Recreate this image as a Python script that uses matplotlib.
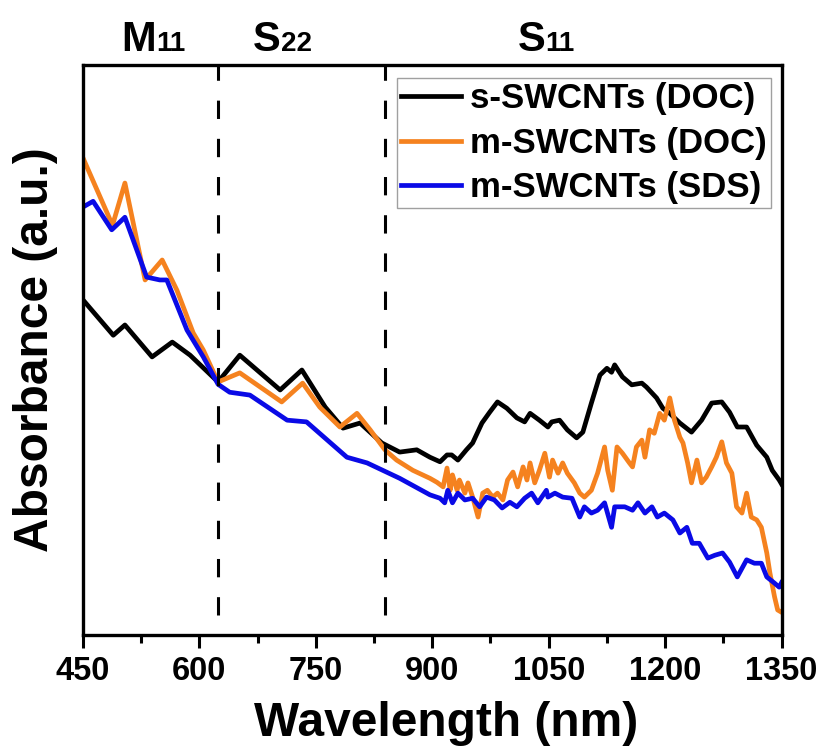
import matplotlib
matplotlib.use("Agg")
from matplotlib import pyplot as plt
from matplotlib.ticker import MultipleLocator

plt.rcParams['font.family'] = ['Liberation Sans', 'DejaVu Sans']
plt.rcParams['font.weight'] = 'bold'

# s-SWCNTs (DOC)
wl_s_doc = [450, 489, 504, 539, 565, 588, 624, 652, 704, 732, 762, 785, 807, 835,
            858, 880, 897, 910, 919, 925, 933, 944, 952, 964, 974, 984, 996, 1009,
            1019, 1026, 1038, 1049, 1054, 1064, 1074, 1086, 1094, 1105, 1116, 1125,
            1131, 1135, 1145, 1157, 1170, 1176, 1189, 1197, 1206, 1219, 1234, 1247,
            1260, 1273, 1283, 1293, 1305, 1318, 1331, 1338, 1347, 1350]
ab_s_doc = [0.588, 0.526, 0.544, 0.488, 0.514, 0.491, 0.444, 0.491, 0.430, 0.465,
            0.400, 0.363, 0.372, 0.337, 0.321, 0.325, 0.312, 0.304, 0.316, 0.316,
            0.307, 0.325, 0.337, 0.372, 0.391, 0.409, 0.398, 0.381, 0.374, 0.389,
            0.377, 0.365, 0.374, 0.377, 0.360, 0.346, 0.356, 0.407, 0.456, 0.468,
            0.461, 0.474, 0.453, 0.439, 0.442, 0.435, 0.416, 0.398, 0.389, 0.372,
            0.356, 0.377, 0.407, 0.409, 0.391, 0.365, 0.365, 0.333, 0.312, 0.289,
            0.272, 0.265]

# m-SWCNTs (DOC)
wl_m_doc = [450, 488, 504, 530, 552, 571, 592, 605, 624, 652, 706, 733, 755, 781,
            803, 820, 839, 854, 875, 897, 906, 914, 919, 923, 926, 932, 935, 942,
            946, 952, 959, 965, 971, 978, 984, 991, 997, 1004, 1010, 1017, 1022,
            1026, 1032, 1038, 1045, 1051, 1055, 1062, 1068, 1074, 1083, 1090, 1096,
            1105, 1113, 1122, 1126, 1132, 1138, 1145, 1154, 1158, 1163, 1170, 1174,
            1180, 1186, 1193, 1199, 1206, 1212, 1219, 1223, 1229, 1234, 1241, 1247,
            1253, 1260, 1266, 1273, 1279, 1286, 1292, 1299, 1305, 1311, 1318, 1324,
            1331, 1335, 1341, 1345, 1350]
ab_m_doc = [0.837, 0.719, 0.793, 0.623, 0.658, 0.605, 0.530, 0.500, 0.444, 0.460,
            0.409, 0.442, 0.400, 0.365, 0.389, 0.360, 0.325, 0.307, 0.289, 0.275,
            0.268, 0.260, 0.293, 0.254, 0.281, 0.254, 0.272, 0.249, 0.267, 0.242,
            0.207, 0.249, 0.254, 0.242, 0.249, 0.237, 0.272, 0.286, 0.260, 0.295,
            0.272, 0.302, 0.267, 0.289, 0.319, 0.277, 0.307, 0.284, 0.302, 0.284,
            0.267, 0.249, 0.242, 0.254, 0.284, 0.330, 0.289, 0.254, 0.330, 0.319,
            0.302, 0.295, 0.330, 0.342, 0.312, 0.360, 0.354, 0.389, 0.377, 0.416,
            0.377, 0.347, 0.337, 0.302, 0.267, 0.307, 0.267, 0.277, 0.295, 0.312,
            0.339, 0.302, 0.284, 0.225, 0.214, 0.249, 0.207, 0.202, 0.189, 0.144,
            0.109, 0.067, 0.044, 0.040]

# m-SWCNTs (SDS)
wl_m_sds = [450, 463, 487, 504, 532, 549, 558, 584, 605, 624, 639, 665, 713, 738,
            790, 816, 858, 897, 910, 916, 920, 926, 933, 942, 952, 961, 970, 980,
            990, 1000, 1009, 1019, 1028, 1036, 1047, 1049, 1058, 1068, 1080, 1090,
            1096, 1105, 1113, 1122, 1131, 1135, 1148, 1158, 1165, 1174, 1183, 1190,
            1199, 1210, 1219, 1228, 1235, 1244, 1255, 1264, 1274, 1283, 1293, 1305,
            1315, 1324, 1331, 1341, 1347, 1350]
ab_m_sds = [0.751, 0.761, 0.711, 0.733, 0.628, 0.623, 0.623, 0.535, 0.488, 0.440,
            0.426, 0.421, 0.377, 0.374, 0.312, 0.302, 0.275, 0.246, 0.240, 0.232,
            0.254, 0.232, 0.249, 0.237, 0.240, 0.225, 0.242, 0.237, 0.223, 0.233,
            0.225, 0.240, 0.249, 0.232, 0.254, 0.242, 0.249, 0.242, 0.240, 0.207,
            0.225, 0.214, 0.219, 0.232, 0.189, 0.225, 0.225, 0.219, 0.232, 0.214,
            0.225, 0.207, 0.214, 0.202, 0.179, 0.189, 0.161, 0.161, 0.135, 0.140,
            0.144, 0.128, 0.102, 0.132, 0.126, 0.126, 0.102, 0.091, 0.084, 0.092]

# region boundaries and labels
bounds = [624, 839]
regions = [("M", "11", 544), ("S", "22", 705), ("S", "11", 1046)]

fig = plt.figure(figsize=(8.17, 7.48), dpi=100)
ax = fig.add_axes([0.1016, 0.151, 0.855, 0.762])

lw = 3.4
ax.plot(wl_s_doc, ab_s_doc, color='black', lw=lw, label='s-SWCNTs (DOC)')
ax.plot(wl_m_doc, ab_m_doc, color='#f5821f', lw=lw, label='m-SWCNTs (DOC)')
ax.plot(wl_m_sds, ab_m_sds, color='#0a0ae6', lw=lw, label='m-SWCNTs (SDS)')

for b in bounds:
    ax.plot([b, b], [0.035, 1.0], color='black', lw=2.2,
            linestyle=(0, (6, 6.5)))

for big, small, xb in regions:
    tr = ax.get_xaxis_transform()
    ax.text(xb, 1.025, big, transform=tr, ha='right', va='baseline',
            fontsize=30, fontweight='bold')
    ax.text(xb, 1.025, small, transform=tr, ha='left', va='baseline',
            fontsize=20, fontweight='bold')

ax.set_xlim(450, 1350)
ax.set_ylim(0, 1.0)
ax.xaxis.set_major_locator(MultipleLocator(150))
ax.xaxis.set_minor_locator(MultipleLocator(75))
ax.tick_params(axis='x', which='major', direction='out', length=9, width=2.2,
               labelsize=23.5, pad=6)
ax.tick_params(axis='x', which='minor', direction='out', length=6, width=2.2)
ax.set_yticks([])
for lab in ax.get_xticklabels():
    lab.set_fontweight('bold')
for sp in ax.spines.values():
    sp.set_linewidth(2.4)

ax.set_xlabel('Wavelength (nm)', fontsize=34.5, fontweight='bold')
ax.xaxis.set_label_coords(0.52, -0.115)
ax.set_ylabel('Absorbance (a.u.)', fontsize=34.5, fontweight='bold', labelpad=18)

leg = ax.legend(loc='upper right', bbox_to_anchor=(0.985, 0.977), fontsize=25,
                frameon=True, fancybox=False, handlelength=1.75,
                handletextpad=0.25, borderpad=0.12, labelspacing=0.33,
                borderaxespad=0)
leg.get_frame().set_edgecolor('#888888')
leg.get_frame().set_linewidth(1.0)
for t in leg.get_texts():
    t.set_fontweight('bold')

fig.savefig('out.png', dpi=100)
